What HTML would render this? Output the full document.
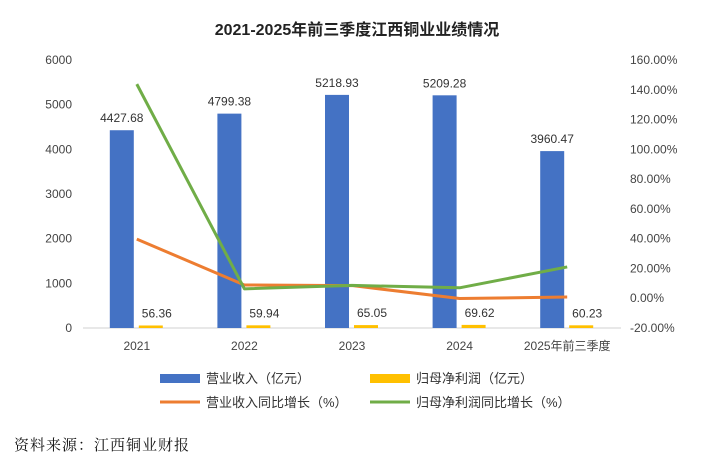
<!DOCTYPE html>
<html><head><meta charset="utf-8"><style>
body{margin:0;background:#fff;width:714px;height:460px;overflow:hidden}
svg text{font-family:"Liberation Sans","Noto Sans CJK SC",sans-serif}
</style></head><body>
<svg width="714" height="460" id="c">
<text x="357" y="35" text-anchor="middle" font-size="16" font-weight="bold" fill="#222">2021-2025年前三季度江西铜业业绩情况</text>
<text x="14" y="450" font-size="15" fill="#111" font-family="'Noto Serif CJK SC',serif" style="font-family:'Noto Serif CJK SC',serif;letter-spacing:1px">资料来源：江西铜业财报</text>
<g id="legend">
<rect x="160" y="374" width="40" height="9" fill="#4472C4"/>
<text x="206" y="383" font-size="13" fill="#333">营业收入（亿元）</text>
<rect x="370" y="374" width="40" height="9" fill="#FFC000"/>
<text x="416" y="383" font-size="13" fill="#333">归母净利润（亿元）</text>
<line x1="160" y1="402" x2="200" y2="402" stroke="#ED7D31" stroke-width="3"/>
<text x="206" y="407" font-size="13" fill="#333">营业收入同比增长（%）</text>
<line x1="370" y1="402" x2="410" y2="402" stroke="#70AD47" stroke-width="3"/>
<text x="416" y="407" font-size="13" fill="#333">归母净利润同比增长（%）</text>
</g>
</svg>
<script>
const categories=["2021","2022","2023","2024","2025年前三季度"];
const revenue=[4427.68,4799.38,5218.93,5209.28,3960.47];
const profit=[56.36,59.94,65.05,69.62,60.23];
const revenueGrowth=[39.7,8.9,8.5,-0.2,0.8];
const profitGrowth=[143.8,6.3,8.6,7.0,21.0];
const leftTicks=[0,1000,2000,3000,4000,5000,6000];
const rightTicks=[-20,0,20,40,60,80,100,120,140,160];
const svg=document.getElementById('c');
const NS="http://www.w3.org/2000/svg";
const x0=83,x1=621,yB=328,yT=60;
const yL=v=>yB-(v/6000)*(yB-yT);
const yR=v=>yB-((v+20)/180)*(yB-yT);
const step=(x1-x0)/categories.length;
const cx=i=>x0+step*(i+0.5);
function mk(t,a){const e=document.createElementNS(NS,t);for(const k in a)e.setAttribute(k,a[k]);svg.appendChild(e);return e;}
let ax=mk('line',{x1:x0,y1:yB,x2:x1,y2:yB,stroke:'#d0d0d0'});


leftTicks.forEach(v=>{const t=mk('text',{x:72,y:yL(v)+4,'text-anchor':'end','font-size':12,fill:'#444'});t.textContent=v;

});
rightTicks.forEach(v=>{const t=mk('text',{x:630,y:yR(v)+4,'font-size':12,fill:'#444'});t.textContent=v.toFixed(2)+'%';

});
categories.forEach((c,i)=>{const t=mk('text',{x:cx(i),y:yB+22,'text-anchor':'middle','font-size':12,fill:'#444'});t.textContent=c;


const b=mk('rect',{x:cx(i)-27,y:yL(revenue[i]),width:24,height:yB-yL(revenue[i]),fill:'#4472C4'});


const l=mk('text',{x:cx(i)-15,y:yL(revenue[i])-8,'text-anchor':'middle','font-size':12,fill:'#333'});l.textContent=revenue[i].toFixed(2);


const p=mk('rect',{x:cx(i)+2,y:yL(profit[i]),width:24,height:yB-yL(profit[i]),fill:'#FFC000'});


const pl=mk('text',{x:cx(i)+20,y:yL(profit[i])-8,'text-anchor':'middle','font-size':12,fill:'#333'});pl.textContent=profit[i].toFixed(2);

});
const o=mk('polyline',{points:revenueGrowth.map((v,i)=>cx(i)+','+yR(v)).join(' '),fill:'none',stroke:'#ED7D31','stroke-width':3,'stroke-linejoin':'round'});


const g=mk('polyline',{points:profitGrowth.map((v,i)=>cx(i)+','+yR(v)).join(' '),fill:'none',stroke:'#70AD47','stroke-width':3,'stroke-linejoin':'round'});


</script>
</body></html>
